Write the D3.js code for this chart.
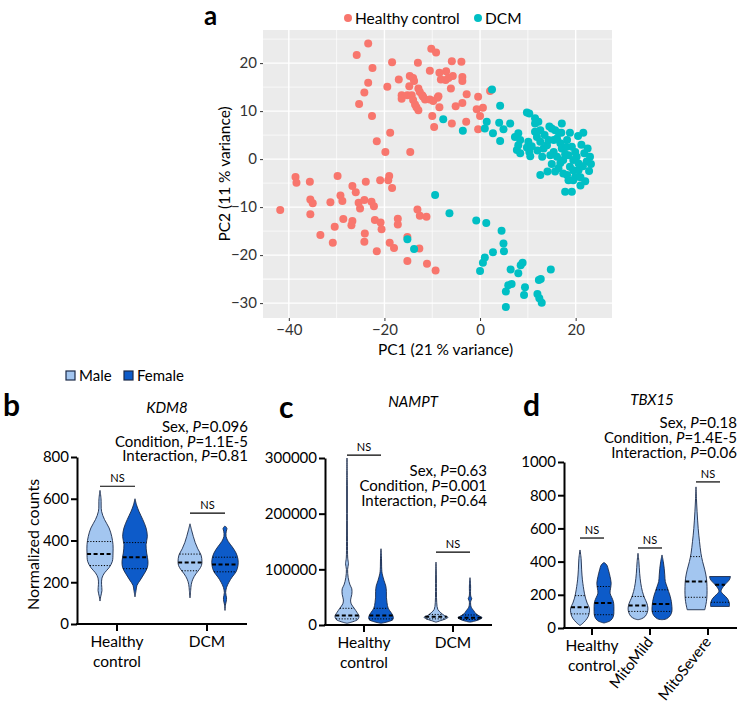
<!DOCTYPE html>
<html><head><meta charset="utf-8">
<script src="https://cdn.jsdelivr.net/npm/d3@7"></script>
<style>body{margin:0;background:#fff} text{font-family:Lato,"Open Sans",sans-serif}</style>
</head><body><svg id="c" width="739" height="713"></svg>
<script>
// ---------- Panel a data: PCA ----------
const healthyPC = [[-38.6,-3.7],[-38.4,-4.9],[-35.6,-4.7],[-29.8,-3.5],[-41.8,-10.6],[-35.5,-8.4],[-35.0,-9.2],[-35.5,-11.5],[-31.3,-9.0],[-29.2,-7.6],[-28.8,-8.7],[-26.7,-5.6],[-26.0,-6.9],[-23.9,-4.7],[-25.4,-9.1],[-25.1,-10.3],[-24.2,-8.5],[-22.7,-8.9],[-22.2,-9.8],[-28.6,-12.5],[-26.7,-12.9],[-26.9,-13.8],[-30.4,-14.1],[-33.4,-15.8],[-30.8,-17.4],[-24.1,-15.5],[-24.2,-17.2],[-22.0,-12.7],[-20.8,-13.2],[-20.6,-14.6],[-21.6,-19.2],[-20.9,-4.4],[-19.2,-4.4],[-19.0,-3.5],[-18.4,-6.0],[-18.9,-17.4],[-18.0,-18.5],[-17.2,-12.4],[-17.2,-13.6],[-15.2,-21.2],[-15.2,-16.2],[-13.1,-10.5],[-12.6,-11.8],[-11.2,-12.0],[-12.7,-18.6],[-11.1,-21.8],[-9.3,-23.2],
[-23.4,24.1],[-25.8,21.7],[-22.5,19.0],[-18.4,20.2],[-23.4,15.9],[-24.2,13.9],[-25.3,11.5],[-22.6,9.0],[-19.4,15.1],[-21.6,3.7],[-18.8,5.5],[-19.8,1.5],[-14.6,1.5],[-17.0,16.6],[-13.0,20.1],[-10.2,23.0],[-9.2,22.2],[-10.5,18.4],[-16.4,13.3],[-16.4,12.6],[-15.2,13.3],[-14.3,13.3],[-14.7,17.3],[-14.0,16.9],[-13.8,16.3],[-14.8,15.2],[-12.9,14.7],[-12.6,14.0],[-12.1,13.3],[-11.9,13.0],[-14.0,12.3],[-13.6,11.4],[-13.3,10.8],[-12.9,10.2],[-11.5,12.4],[-10.5,12.4],[-9.8,12.1],[-8.9,12.8],[-8.7,13.1],[-8.5,10.8],[-10.0,9.0],[-9.6,6.7],[-8.5,18.0],[-8.2,16.6],[-7.1,18.3],[-7.2,16.5],[-6.6,16.9],[-5.9,20.4],[-5.7,17.3],[-6.1,14.7],[-3.9,20.3],[-3.7,17.1],[-3.7,16.3],[-5.1,11.0],[-5.9,7.4],[-3.7,11.7],[-2.8,13.5],[-2.9,7.8],[-0.4,13.0],[-0.7,10.4],[0.6,10.7],[0.0,9.0],[-0.4,6.2],[2.1,14.2]];
const dcmPC = [[-9.4,-7.5],[-6.4,-11.3],[-0.8,-12.8],[1.3,-13.3],[4.5,-14.9],[4.9,-17.6],[5.0,-19.2],[2.7,-19.4],[1.0,-20.5],[0.6,-21.6],[0,-23.3],[-15.2,-16.7],[-13.8,-18.7],[6.4,-23.0],[5.4,-27.6],[5.4,-30.8],[5.9,-26.3],[6.6,-26.0],[8.0,-23.8],[8.5,-22.1],[8.9,-21.6],[9.4,-26.7],[9.2,-28.3],[14.8,-23.0],[12.7,-25.0],[12.3,-25.2],[12.0,-28.1],[12.4,-29.0],[12.9,-29.9],
[2.5,14.5],[-7.7,8.3],[-3.6,5.9],[4.2,11.1],[1.4,7.8],[1.0,6.4],[2.7,5.4],[4.0,7.6],[4.9,6.2],[6.3,7.4],[4.2,3.75],[9.8,9.7],[10.3,9.5],[11.5,8.5],[12.2,7.8],[11.5,7.4],[8.0,5.4],[7.3,4.6],[8.4,4.0],[8.0,2.9],[7.7,1.9],[8.4,1.2],[10.1,3.6],[10.8,2.7],[10.3,1.5],[10.5,0.6],[9.8,2.4],
[11.5,5.7],[12.6,6.0],[11.9,4.6],[12.6,3.6],[13.3,2.2],[14.0,2.9],[14.3,4.0],[15.0,6.4],[15.7,6.0],[17.1,7.4],[15.4,4.0],[16.1,4.3],[16.8,3.3],[17.1,2.2],[15.4,1.5],[14.7,0.8],[16.1,0.5],[17.4,-0.2],
[18.2,4.0],[19.2,2.6],[19.9,1.5],[18.5,0.8],[19.5,-0.2],[20.2,0.5],[20.6,-0.9],[18.8,-1.6],[19.5,-2.3],[18.2,-3.3],[19.9,-3.7],[20.6,-2.3],[12.6,-3.3],[14.1,-2.6],[15.7,-2.6],[16.4,-1.9],[17.4,-3.0],[17.8,-6.8],[19.2,-6.8],[18.5,-4.4],[19.5,-4.4],
[21.2,3.0],[21.8,1.2],[22.3,-0.5],[21.5,-1.5],[22.8,-2.5],[21.0,-3.8],[22.0,-4.6],[23.2,-1.0],[20.5,4.8],[21.6,5.5],[22.5,2.2],[23.0,0.5],[21.0,-5.5],[13.5,5.0],[14.5,6.8],[16.5,5.5],[13.0,0.5],[12.0,1.8],[15.0,-1.0],[16.8,-0.8],[17.8,1.0],[18.0,2.5],[17.0,5.5],[18.8,5.5]];
const pcXTicks = [-40,-20,0,20];
const pcYTicks = [-30,-20,-10,0,10,20];
const pcGroups = ["Healthy control","DCM"];
const pcColors = ["#F8766D","#00BFC4"];

// ---------- Violin data: [value, relative density] ----------
const sexGroups = ["Male","Female"];
const kdm8Cats = ["Healthy control","DCM"];
const kdm8Male = [
 [[640,0],[600,0.08],[540,0.12],[500,0.35],[460,0.7],[420,0.9],[380,1],[340,1],[300,0.95],[270,0.7],[245,0.35],[220,0.15],[190,0.12],[160,0.15],[130,0.05],[110,0]],
 [[480,0],[450,0.12],[420,0.25],[390,0.4],[360,0.6],[330,0.85],[300,0.92],[280,0.88],[260,0.7],[240,0.45],[215,0.22],[190,0.1],[160,0.05],[125,0]]];
const kdm8Female = [
 [[600,0],[570,0.12],[540,0.3],[500,0.6],[460,0.85],[420,0.95],[380,0.85],[340,0.9],[300,1],[270,0.95],[240,0.7],[210,0.4],[185,0.15],[160,0.08],[130,0]],
 [[470,0],[458,0.15],[445,0.1],[420,0.08],[395,0.25],[370,0.55],[340,0.85],[310,1],[280,1],[250,0.85],[225,0.55],[200,0.3],[175,0.12],[150,0.05],[125,0.12],[110,0.1],[90,0.03],[65,0]]];
const kdm8MaleQ = [[280,335,395],[255,295,335]];
const kdm8FemaleQ = [[265,320,390],[250,285,320]];
const kdm8NS = [660,531];
const kdm8Ticks = [0,200,400,600,800];
const kdm8Stats = ["Sex, |P|=0.096","Condition, |P|=1.1E-5","Interaction, |P|=0.81"];

const namptCats = ["Healthy control","DCM"];
const namptMale = [
 [[300000,0],[250000,0.03],[200000,0.03],[150000,0.04],[120000,0.06],[110000,0.12],[100000,0.05],[85000,0.1],[72000,0.25],[65000,0.4],[55000,0.4],[45000,0.3],[38000,0.35],[30000,0.6],[22000,0.85],[16000,1],[10000,0.9],[6000,0.5],[3000,0]],
 [[113000,0],[90000,0.03],[60000,0.04],[40000,0.06],[28000,0.15],[22000,0.4],[17000,0.7],[14000,1],[11000,0.8],[8000,0.4],[5000,0]]];
const namptFemale = [
 [[137000,0],[120000,0.04],[100000,0.06],[92000,0.1],[80000,0.25],[70000,0.4],[60000,0.45],[50000,0.45],[40000,0.5],[30000,0.6],[22000,0.85],[16000,1],[10000,1],[6000,0.6],[3000,0]],
 [[85000,0],[70000,0.05],[52000,0.06],[47000,0.15],[43000,0.06],[32000,0.1],[26000,0.3],[20000,0.5],[16000,0.8],[13000,1],[10000,0.8],[7000,0.4],[5000,0]]];
const namptMaleQ = [[11000,17000,30000],[11000,15000,19000]];
const namptFemaleQ = [[11000,17000,30000],[10000,13000,18000]];
const namptNS = [305000,131000];
const namptTicks = [0,100000,200000,300000];
const namptStats = ["Sex, |P|=0.63","Condition, |P|=0.001","Interaction, |P|=0.64"];

const tbx15Cats = ["Healthy control","MitoMild","MitoSevere"];
const tbx15Male = [
 [[470,0],[420,0.1],[350,0.15],[290,0.22],[250,0.3],[210,0.4],[180,0.5],[150,0.65],[120,0.85],[95,0.85],[70,0.75],[45,0.5],[25,0.2],[15,0]],
 [[450,0],[400,0.08],[330,0.15],[270,0.25],[220,0.4],[180,0.6],[150,0.8],[120,0.9],[95,0.85],[70,0.65],[55,0.3],[50,0]],
 [[850,0],[780,0.04],[700,0.1],[600,0.2],[520,0.32],[450,0.45],[400,0.6],[350,0.8],[300,0.95],[250,1],[200,1],[160,0.95],[125,0.85],[110,0.8]]];
const tbx15Female = [
 [[395,0],[380,0.25],[350,0.4],[310,0.55],[270,0.65],[240,0.6],[210,0.55],[185,0.7],[160,0.85],[130,0.9],[100,0.9],[70,0.85],[45,0.6],[30,0]],
 [[440,0],[400,0.12],[360,0.2],[320,0.25],[280,0.3],[250,0.45],[220,0.6],[190,0.75],[160,0.85],[130,0.9],[100,0.9],[75,0.75],[55,0.4],[50,0]],
 [[310,0.95],[290,0.85],[265,0.5],[240,0.2],[220,0.1],[200,0.35],[175,0.7],[150,0.85],[130,0.85]]];
const tbx15MaleQ = [[85,125,195],[100,135,190],[185,280,430]];
const tbx15FemaleQ = [[80,150,250],[100,145,230],[155,260,null]];
const tbx15NS = [542,482,880];
const tbx15Ticks = [0,200,400,600,800,1000];
const tbx15Stats = ["Sex, |P|=0.18","Condition, |P|=1.4E-5","Interaction, |P|=0.06"];

const sexColors = ["#A3C6F0","#0D5BC9"];

// ---------- Drawing ----------
const svg = d3.select("#c");

// Panel a
(function(){
  const g = svg.append("g");
  const x = d3.scaleLinear().domain([-45.4,27.6]).range([263,612]);
  const y = d3.scaleLinear().domain([-33.1,26.9]).range([318,30]);
  g.append("rect").attr("x",x.range()[0]).attr("y",y.range()[1])
    .attr("width",x.range()[1]-x.range()[0]).attr("height",y.range()[0]-y.range()[1]).attr("fill","#EBEBEB");
  const xMinor = pcXTicks.slice(0,-1).map((d,i)=>(d+pcXTicks[i+1])/2).concat([pcXTicks[pcXTicks.length-1]+10]).filter(v=>v<x.domain()[1]);
  const yMinor = [pcYTicks[0]+5].concat(pcYTicks.map(d=>d+5)).concat([pcYTicks[0]-5]).filter(v=>v>y.domain()[0]&&v<y.domain()[1]);
  g.selectAll(".xm").data(xMinor).join("line").attr("x1",d=>x(d)).attr("x2",d=>x(d)).attr("y1",y.range()[0]).attr("y2",y.range()[1]).attr("stroke","#fff").attr("stroke-width",0.7);
  g.selectAll(".ym").data(yMinor).join("line").attr("y1",d=>y(d)).attr("y2",d=>y(d)).attr("x1",x.range()[0]).attr("x2",x.range()[1]).attr("stroke","#fff").attr("stroke-width",0.7);
  g.selectAll(".xM").data(pcXTicks).join("line").attr("x1",d=>x(d)).attr("x2",d=>x(d)).attr("y1",y.range()[0]).attr("y2",y.range()[1]).attr("stroke","#fff").attr("stroke-width",1.4);
  g.selectAll(".yM").data(pcYTicks).join("line").attr("y1",d=>y(d)).attr("y2",d=>y(d)).attr("x1",x.range()[0]).attr("x2",x.range()[1]).attr("stroke","#fff").attr("stroke-width",1.4);
  const ax = g.append("g").attr("transform",`translate(0,${y.range()[0]})`).call(d3.axisBottom(x).tickValues(pcXTicks).tickSize(3).tickPadding(3));
  const ay = g.append("g").attr("transform",`translate(${x.range()[0]},0)`).call(d3.axisLeft(y).tickValues(pcYTicks).tickSize(3).tickPadding(3));
  [ax,ay].forEach(a=>{a.select(".domain").remove();a.selectAll("line").attr("stroke","#333");a.selectAll("text").attr("fill","#333").style("font-size","15px").style("font-family","Lato");});
  const sets=[healthyPC,dcmPC];
  sets.forEach((s,i)=>{
    g.append("g").selectAll("circle").data(s).join("circle").attr("cx",d=>x(d[0])).attr("cy",d=>y(d[1])).attr("r",4).attr("fill",pcColors[i]);
  });
  g.append("text").attr("x",(x.range()[0]+x.range()[1])/2+8).attr("y",355).attr("text-anchor","middle").style("font-size","15.5px").text("PC1 (21 % variance)");
  g.append("text").attr("transform",`translate(230,${(y.range()[0]+y.range()[1])/2}) rotate(-90)`).attr("text-anchor","middle").style("font-size","15.5px").text("PC2 (11 % variance)");
  // legend
  const lx=[348,478];
  pcGroups.forEach((n,i)=>{
    g.append("circle").attr("cx",lx[i]).attr("cy",18).attr("r",4).attr("fill",pcColors[i]);
    g.append("text").attr("x",lx[i]+7).attr("y",24).style("font-size","15.5px").text(n);
  });
  g.append("text").attr("x",204).attr("y",25).style("font-size","26px").style("font-weight","bold").text("a");
})();

// legend Male/Female
sexGroups.forEach((n,i)=>{
  const lx=[66,124][i];
  svg.append("rect").attr("x",lx).attr("y",371).attr("width",9).attr("height",9).attr("fill",sexColors[i]).attr("stroke","#1b2a49").attr("stroke-width",1.2);
  svg.append("text").attr("x",lx+13).attr("y",381).style("font-size","15px").text(n);
});

function richText(sel, str){
  str.split("|").forEach((p,i)=>{sel.append("tspan").style("font-style",i%2?"italic":"normal").text(p);});
}

function violinPanel(o){
  const g = svg.append("g");
  const y = d3.scaleLinear().domain([0,o.max]).range([o.y0,o.y1]);
  const xc = d3.scalePoint().domain(o.cats).range(o.catRange);
  const w = d3.scaleLinear().domain([0,1]).range([0,o.halfW]);
  const ay = g.append("g").attr("transform",`translate(${o.xAxis},0)`).call(d3.axisLeft(y).tickValues(o.ticks).tickSize(6).tickSizeOuter(0).tickPadding(2).tickFormat(d3.format("d")));
  ay.select(".domain").attr("stroke","#000").attr("stroke-width",2);
  ay.selectAll(".tick line").attr("stroke","#000").attr("stroke-width",2);
  ay.selectAll("text").attr("fill","#000").style("font-size","15px").style("font-family","Lato");
  g.append("line").attr("x1",o.xAxis-1).attr("x2",o.xEnd).attr("y1",y(0)).attr("y2",y(0)).attr("stroke","#000").attr("stroke-width",2);
  g.selectAll(".ct").data(o.cats).join("line").attr("x1",d=>xc(d)).attr("x2",d=>xc(d)).attr("y1",y(0)).attr("y2",y(0)+7).attr("stroke","#000").attr("stroke-width",2);
  const sets=[[o.male,o.maleQ],[o.female,o.femaleQ]];
  sets.forEach(([prof,qs],s)=>{
    prof.forEach((p,ci)=>{
      const cx = xc(o.cats[ci]) + o.off[s];
      const area = d3.area().y(d=>y(d[0])).x0(d=>cx-w(d[1])).x1(d=>cx+w(d[1])).curve(d3.curveCatmullRom);
      g.append("path").attr("d",area(p)).attr("fill",sexColors[s]).attr("stroke","#1b2a49").attr("stroke-width",0.9);
      const interp = d3.scaleLinear().domain(p.map(d=>d[0])).range(p.map(d=>d[1]));
      qs[ci].forEach((q,qi)=>{
        if(q==null) return;
        const hw = w(interp(q));
        g.append("line").attr("x1",cx-hw).attr("x2",cx+hw).attr("y1",y(q)).attr("y2",y(q))
          .attr("stroke","#000").attr("stroke-width",qi===1?2:1)
          .attr("stroke-dasharray",qi===1?"4,2.5":"1.2,1.6");
      });
    });
  });
  o.ns.forEach((v,ci)=>{
    const c = xc(o.cats[ci]);
    g.append("line").attr("x1",c+o.off[0]).attr("x2",c+o.off[1]).attr("y1",y(v)).attr("y2",y(v)).attr("stroke","#000").attr("stroke-width",1.2);
    g.append("text").attr("x",c+(o.off[0]+o.off[1])/2).attr("y",y(v)-4).attr("text-anchor","middle").style("font-size","11px").text("NS");
  });
  o.cats.forEach((c,i)=>{
    if(o.rotate && i>0){
      g.append("text").attr("transform",`translate(${xc(c)+4},${y(0)+14}) rotate(-52)`).attr("text-anchor","end").style("font-size","15px").text(c);
    } else {
      const parts = c.split(" ");
      parts.forEach((p,j)=>g.append("text").attr("x",xc(c)).attr("y",y(0)+23+j*20).attr("text-anchor","middle").style("font-size","15.5px").text(p));
    }
  });
  g.append("text").attr("x",o.titleX).attr("y",o.titleY).attr("text-anchor","middle").style("font-size","15px").style("font-style","italic").text(o.title);
  o.stats.forEach((s,i)=>{
    richText(g.append("text").attr("x",o.statX).attr("y",o.statY+i*o.statDy).attr("text-anchor","end").style("font-size","15px"), s);
  });
  g.append("text").attr("x",o.letterX).attr("y",o.letterY).style("font-size","30px").style("font-weight","bold").text(o.letter);
  if(o.ylabel) g.append("text").attr("transform",`translate(39,${(o.y0+o.y1)/2+4}) rotate(-90)`).attr("text-anchor","middle").style("font-size","16px").text(o.ylabel);
}

violinPanel({letter:"b",letterX:3,letterY:416,title:"KDM8",titleX:167,titleY:413,stats:kdm8Stats,statX:248,statY:432,statDy:14.5,
  cats:kdm8Cats,catRange:[117,207],max:800,y0:624,y1:457,xAxis:77,xEnd:247,ticks:kdm8Ticks,male:kdm8Male,female:kdm8Female,maleQ:kdm8MaleQ,femaleQ:kdm8FemaleQ,
  off:[-17,18],halfW:13,ns:kdm8NS,ylabel:"Normalized counts"});
violinPanel({letter:"c",letterX:279,letterY:418,title:"NAMPT",titleX:413,titleY:407,stats:namptStats,statX:487,statY:476,statDy:15,
  cats:namptCats,catRange:[364,453],max:300000,y0:625,y1:458,xAxis:325,xEnd:492,ticks:namptTicks,male:namptMale,female:namptFemale,maleQ:namptMaleQ,femaleQ:namptFemaleQ,
  off:[-17,17],halfW:12,ns:namptNS});
violinPanel({letter:"d",letterX:523,letterY:416,title:"TBX15",titleX:652,titleY:405,stats:tbx15Stats,statX:737,statY:428,statDy:15,
  cats:tbx15Cats,catRange:[592,708],max:1000,y0:628,y1:462,xAxis:564,xEnd:737,ticks:tbx15Ticks,male:tbx15Male,female:tbx15Female,maleQ:tbx15MaleQ,femaleQ:tbx15FemaleQ,
  off:[-12,12],halfW:11,ns:tbx15NS,rotate:true});
</script></body></html>
